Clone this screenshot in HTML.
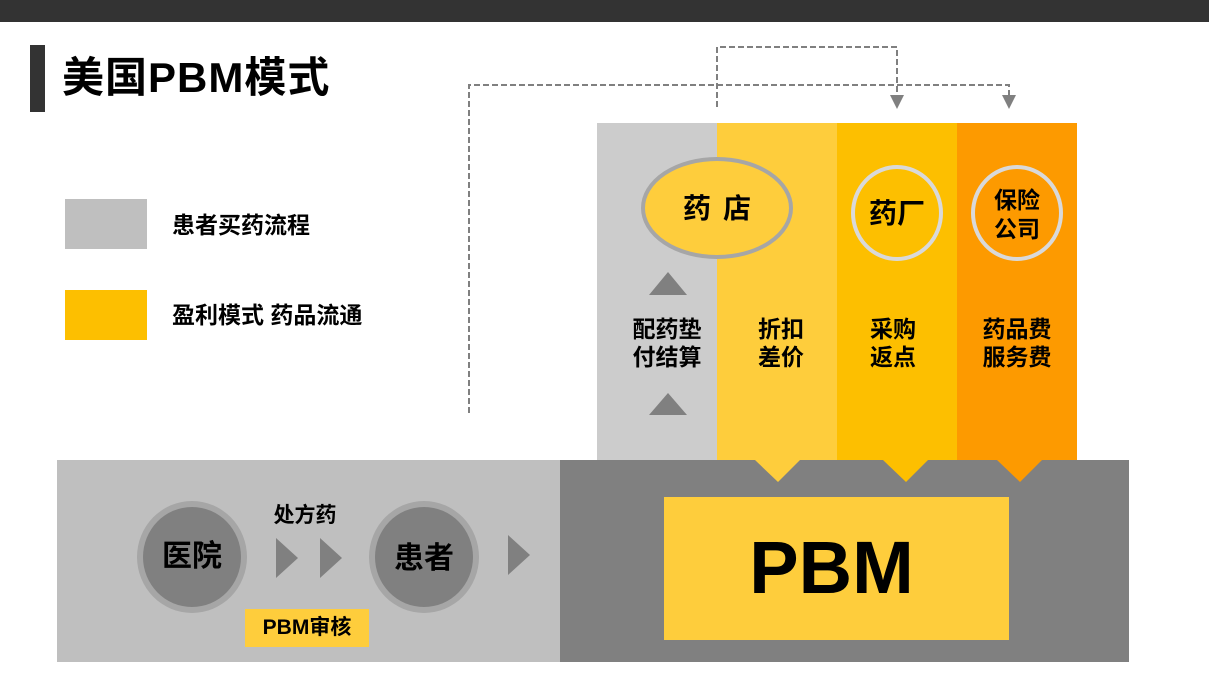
<!DOCTYPE html>
<html><head><meta charset="utf-8"><style>
body{margin:0;width:1209px;height:680px;background:#fff;overflow:hidden;position:relative;font-family:"Liberation Sans","Noto Sans CJK SC",sans-serif;font-weight:bold}
div{position:absolute}
.t{white-space:nowrap;color:#000}
</style></head><body>
<div style="left:0;top:0;width:1209px;height:22px;background:#333"></div>
<div style="left:30px;top:45px;width:15px;height:67px;background:#333"></div>
<div class="t" style="left:62px;top:53px;font-size:42px;line-height:50px;letter-spacing:1px">美国PBM模式</div>
<div style="left:65px;top:199px;width:82px;height:50px;background:#bfbfbf"></div>
<div style="left:65px;top:290px;width:82px;height:50px;background:#fdbf00"></div>
<div class="t" style="left:172px;top:210px;font-size:23px;line-height:30px">患者买药流程</div>
<div class="t" style="left:172px;top:300px;font-size:23px;line-height:30px">盈利模式 药品流通</div>
<div style="left:597px;top:123px;width:120px;height:337px;background:#cccccc"></div>
<div style="left:717px;top:123px;width:120px;height:337px;background:#fecd3c"></div>
<div style="left:837px;top:123px;width:120px;height:337px;background:#fdbf00"></div>
<div style="left:957px;top:123px;width:120px;height:337px;background:#fd9a00"></div>
<div style="left:57px;top:460px;width:503px;height:202px;background:#bfbfbf"></div>
<div style="left:560px;top:460px;width:569px;height:202px;background:#808080"></div>
<svg width="1209" height="680" style="position:absolute;left:0;top:0">
<g stroke="#808080" stroke-width="2" stroke-dasharray="6,3" fill="none">
<path d="M469 413 V85 H1009 V96"/>
<path d="M717 107 V47 H897 V96"/>
</g>
<g fill="#808080">
<polygon points="890,95 904,95 897,109"/>
<polygon points="1002,95 1016,95 1009,109"/>
<polygon points="649,295 687,295 668,272"/>
<polygon points="649,415 687,415 668,393"/>
<polygon points="276,538 298,558 276,578"/>
<polygon points="320,538 342,558 320,578"/>
<polygon points="508,535 530,555 508,575"/>
</g>
<polygon points="755,460 800,460 778,482" fill="#fecd3c"/>
<polygon points="883,460 928,460 906,482" fill="#fdbf00"/>
<polygon points="997,460 1042,460 1020,482" fill="#fd9a00"/>
<ellipse cx="717" cy="208" rx="74" ry="49" fill="#fecd3c" stroke="#a6a6a6" stroke-width="4"/>
<ellipse cx="897" cy="213" rx="44" ry="46" fill="#fdbf00" stroke="#d9d9d9" stroke-width="4"/>
<ellipse cx="1017" cy="213" rx="44" ry="46" fill="#fd9a00" stroke="#d9d9d9" stroke-width="4"/>
<ellipse cx="192" cy="557" rx="55" ry="56" fill="#a6a6a6"/>
<ellipse cx="192" cy="557" rx="49" ry="50" fill="#808080"/>
<ellipse cx="424" cy="557" rx="55" ry="56" fill="#a6a6a6"/>
<ellipse cx="424" cy="557" rx="49" ry="50" fill="#808080"/>
</svg>
<div class="t" style="left:667px;top:192px;width:100px;text-align:center;font-size:28px;line-height:34px;letter-spacing:12px;padding-left:12px;box-sizing:border-box">药店</div>
<div class="t" style="left:857px;top:197px;width:80px;text-align:center;font-size:28px;line-height:34px">药厂</div>
<div class="t" style="left:977px;top:186px;width:80px;text-align:center;font-size:23px;line-height:29px">保险<br>公司</div>
<div class="t" style="left:597px;top:315px;width:140px;text-align:center;font-size:23px;line-height:28px">配药垫<br>付结算</div>
<div class="t" style="left:717px;top:315px;width:128px;text-align:center;font-size:23px;line-height:28px">折扣<br>差价</div>
<div class="t" style="left:837px;top:315px;width:112px;text-align:center;font-size:23px;line-height:28px">采购<br>返点</div>
<div class="t" style="left:957px;top:315px;width:120px;text-align:center;font-size:23px;line-height:28px">药品费<br>服务费</div>
<div style="left:664px;top:497px;width:345px;height:143px;background:#fecd3c"></div>
<div class="t" style="left:664px;top:528px;width:335px;text-align:center;font-size:74px;line-height:80px">PBM</div>
<div class="t" style="left:142px;top:538px;width:100px;text-align:center;font-size:30px;line-height:38px">医院</div>
<div class="t" style="left:374px;top:540px;width:100px;text-align:center;font-size:30px;line-height:38px">患者</div>
<div class="t" style="left:260px;top:503px;width:90px;text-align:center;font-size:21px;line-height:26px">处方药</div>
<div style="left:245px;top:609px;width:124px;height:38px;background:#fecd3c"></div>
<div class="t" style="left:245px;top:613px;width:124px;text-align:center;font-size:21px;line-height:30px">PBM审核</div>
</body></html>
